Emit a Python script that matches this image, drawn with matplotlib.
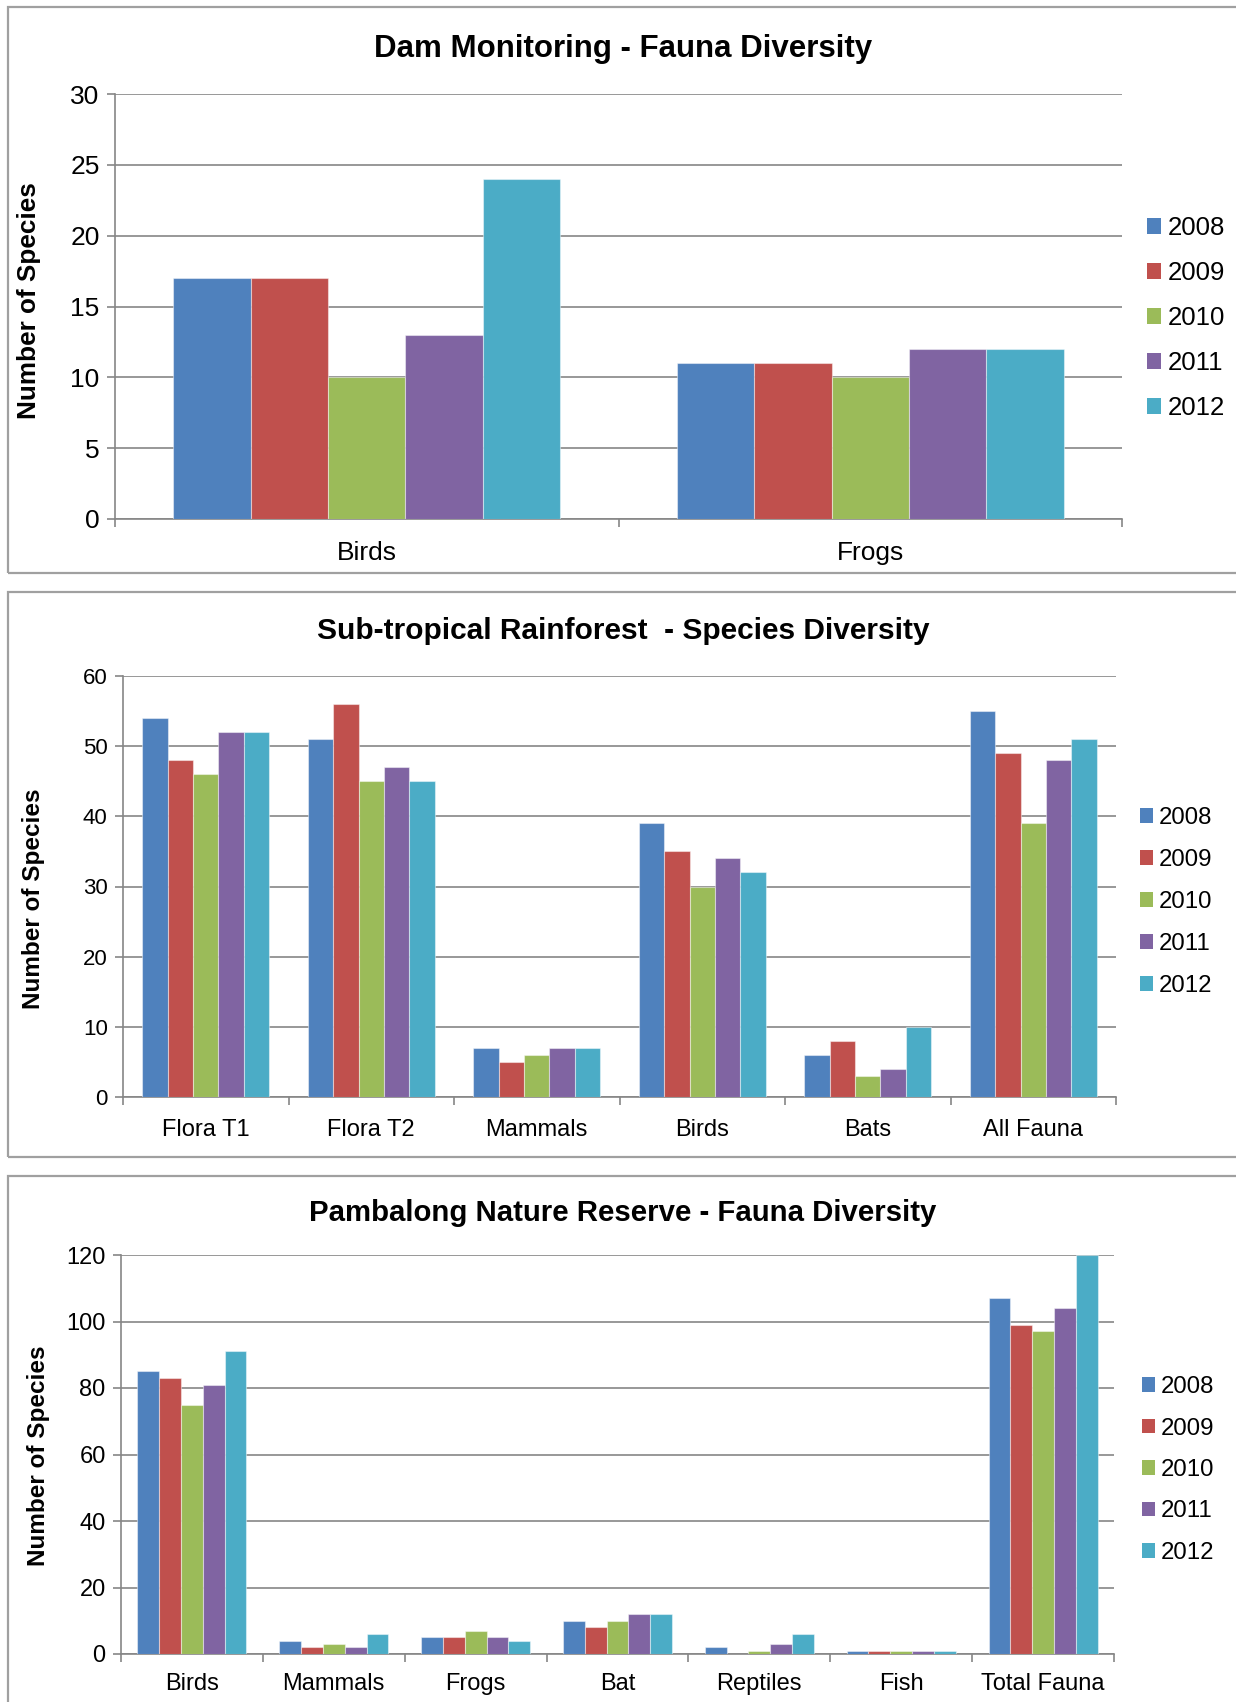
import matplotlib
matplotlib.use("Agg")
from matplotlib import pyplot as plt
from matplotlib.patches import Rectangle, Patch
import numpy as np

plt.rcParams["font.family"] = ["Liberation Sans", "DejaVu Sans"]

years = ["2008", "2009", "2010", "2011", "2012"]
colors = ["#4F81BD", "#C0504D", "#9BBB59", "#8064A2", "#4BACC6"]

dam_categories = ["Birds", "Frogs"]
dam_values = {
    "2008": [17, 11],
    "2009": [17, 11],
    "2010": [10, 10],
    "2011": [13, 12],
    "2012": [24, 12],
}

rain_categories = ["Flora T1", "Flora T2", "Mammals", "Birds", "Bats", "All Fauna"]
rain_values = {
    "2008": [54, 51, 7, 39, 6, 55],
    "2009": [48, 56, 5, 35, 8, 49],
    "2010": [46, 45, 6, 30, 3, 39],
    "2011": [52, 47, 7, 34, 4, 48],
    "2012": [52, 45, 7, 32, 10, 51],
}

pamb_categories = ["Birds", "Mammals", "Frogs", "Bat", "Reptiles", "Fish", "Total Fauna"]
pamb_values = {
    "2008": [85, 4, 5, 10, 2, 1, 107],
    "2009": [83, 2, 5, 8, 0, 1, 99],
    "2010": [75, 3, 7, 10, 1, 1, 97],
    "2011": [81, 2, 5, 12, 3, 1, 104],
    "2012": [91, 6, 4, 12, 6, 1, 120],
}

W, H = 1236, 1702
fig = plt.figure(figsize=(W / 100, H / 100), dpi=100)
grey = "#868686"


def fx(px):
    return px / W


def fy(py):
    return 1 - py / H


def draw_panel(box, axbox, title, title_y, ylabel_xy, cats, values, ymax, ystep,
               tick_fs, cat_fs, title_fs, ylab_fs, leg_xy, leg_fs, leg_spacing, xpad):
    # panel frame
    x0, top, bottom = box
    fig.add_artist(Rectangle((fx(x0), fy(bottom)), 1.2, fy(top) - fy(bottom),
                             transform=fig.transFigure, fill=False,
                             edgecolor="#A0A0A0", linewidth=1.6))
    left, right, atop, abot = axbox
    ax = fig.add_axes([fx(left), fy(abot), fx(right) - fx(left), fy(atop) - fy(abot)])
    n = len(cats)
    w = 1 / 6.5
    x = np.arange(n)
    for j, yr in enumerate(years):
        ax.bar(x + (j - 2) * w, values[yr], width=w, color=colors[j],
               edgecolor=(1, 1, 1, 0.45), linewidth=0.8, zorder=3)
    ax.set_xlim(-0.5, n - 0.5)
    ax.set_ylim(0, ymax)
    ax.set_yticks(np.arange(0, ymax + 1, ystep))
    ax.yaxis.grid(True, color=grey, linewidth=1.2, zorder=0)
    ax.set_axisbelow(True)
    for s in ["top", "right"]:
        ax.spines[s].set_visible(False)
    for s in ["left", "bottom"]:
        ax.spines[s].set_color(grey)
        ax.spines[s].set_linewidth(1.2)
    ax.set_xticks(x)
    ax.set_xticklabels(cats, fontsize=cat_fs)
    ax.set_xticks(np.arange(n + 1) - 0.5, minor=True)
    ax.tick_params(axis="x", which="major", length=0, pad=xpad)
    ax.tick_params(axis="x", which="minor", length=6, width=1.2, color=grey)
    ax.tick_params(axis="y", length=6, width=1.2, color=grey, labelsize=tick_fs, pad=5)
    fig.text(0.504, fy(title_y), title, ha="center", va="center",
             fontsize=title_fs, fontweight="bold")
    fig.text(fx(ylabel_xy[0]), fy(ylabel_xy[1]), "Number of Species", rotation=90,
             ha="center", va="center", fontsize=ylab_fs, fontweight="bold")
    handles = [Patch(facecolor=c, edgecolor="none") for c in colors]
    fig.legend(handles, years, loc="center left", bbox_to_anchor=(fx(leg_xy[0]), fy(leg_xy[1])),
               frameon=False, fontsize=leg_fs, handlelength=0.55, handleheight=0.55,
               handletextpad=0.25, labelspacing=leg_spacing, borderpad=0, borderaxespad=0)
    return ax


draw_panel((8, 7, 573), (115, 1122, 94, 519), "Dam Monitoring - Fauna Diversity", 49,
           (29, 301), dam_categories, dam_values, 30, 5,
           19, 19, 22.5, 18.8, (1147, 318), 18.5, 0.82, 16)

draw_panel((8, 592, 1157), (123, 1116, 676, 1097), "Sub-tropical Rainforest  - Species Diversity", 631,
           (34, 899), rain_categories, rain_values, 60, 10,
           16, 17, 21.5, 17.5, (1140, 902), 17.3, 0.83, 16)

draw_panel((8, 1176, 1900), (121, 1114, 1255, 1654), "Pambalong Nature Reserve - Fauna Diversity", 1213,
           (39, 1456), pamb_categories, pamb_values, 120, 20,
           17, 17, 21.2, 17.5, (1142, 1470), 17.3, 0.81, 14)

fig.savefig("out.png", dpi=100)
